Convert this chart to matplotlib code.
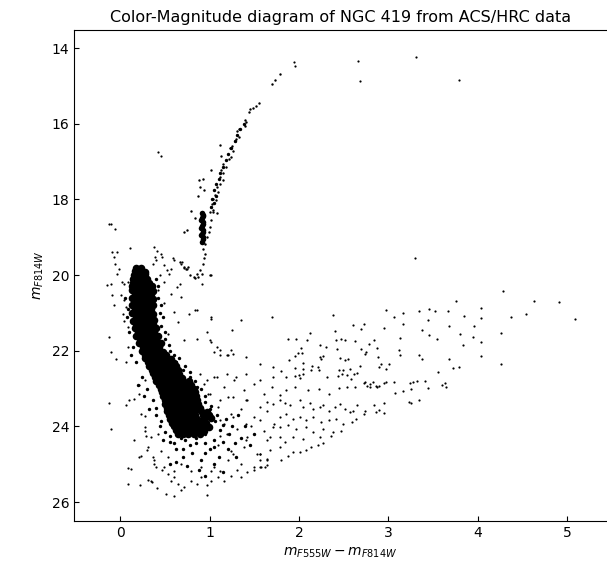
import numpy as np
import matplotlib
matplotlib.use("Agg")
import matplotlib.pyplot as plt

# star positions: (colour F555W-F814W, magnitude F814W)
field_stars = [
    (1.94, 14.37), (1.95, 14.46), (2.66, 14.34), (2.68, 14.87), (3.31, 14.24), (3.79, 14.85),
    (0.42, 16.75), (0.46, 16.85),
    (3.30, 19.56), (4.28, 20.43), (3.76, 20.68), (4.63, 20.69), (4.91, 20.71), (5.09, 21.17),
    (4.38, 21.11), (4.54, 21.02), (4.04, 20.88), (4.04, 21.13), (3.85, 21.08), (3.67, 20.96),
    (3.52, 20.94), (3.46, 20.90), (3.34, 20.96), (3.16, 21.00), (3.17, 21.29), (3.44, 21.19),
    (3.38, 21.44), (3.68, 21.35), (3.96, 21.35), (3.80, 21.55), (3.46, 21.59), (3.55, 21.70),
    (3.95, 21.63), (4.26, 21.52), (4.04, 21.76), (3.84, 21.85), (3.13, 21.66), (3.13, 22.10),
    (3.34, 22.10), (3.38, 22.23), (3.68, 22.22), (4.04, 22.13), (4.26, 22.35), (3.79, 22.43),
    (3.73, 22.46), (3.56, 22.55), (3.24, 22.84), (3.28, 22.82), (3.32, 22.81), (3.41, 22.81),
    (3.25, 23.02), (3.45, 22.98), (3.60, 22.91), (3.63, 22.86), (3.65, 22.97), (3.16, 23.06),
    (3.23, 23.36), (3.25, 23.38), (3.34, 23.29),
    (2.38, 21.06), (2.12, 21.53), (1.88, 21.69), (1.97, 21.69), (2.09, 21.72), (2.40, 21.47),
    (2.60, 21.32), (2.69, 21.43), (2.73, 21.30), (2.97, 20.92), (3.06, 21.11), (2.95, 21.39),
    (2.42, 21.72), (2.47, 21.70), (2.52, 21.72), (2.63, 21.74), (2.84, 21.72), (2.78, 21.83),
    (2.87, 21.93), (2.69, 21.95), (2.74, 22.08), (2.75, 22.04), (3.12, 21.99), (2.43, 21.94),
    (2.30, 21.91), (2.23, 21.84), (2.02, 21.92), (1.95, 22.13), (1.99, 22.07), (2.03, 22.05),
    (2.24, 22.16), (2.27, 22.15), (2.25, 22.21), (2.46, 22.18), (2.52, 22.25), (2.55, 22.23),
    (2.89, 22.16), (1.89, 22.25), (2.05, 22.32), (2.15, 22.41), (2.21, 22.42), (2.22, 22.52),
    (2.49, 22.51), (2.45, 22.52), (2.57, 22.49), (2.68, 22.39), (2.90, 22.43), (2.92, 22.34),
    (2.97, 22.47), (3.01, 22.36), (1.80, 22.54), (1.95, 22.45), (2.04, 22.47), (2.13, 22.51),
    (1.86, 22.70), (1.95, 22.68), (2.00, 22.65), (2.05, 22.62), (2.01, 22.73), (2.31, 22.70),
    (2.44, 22.66), (2.48, 22.61), (2.54, 22.65), (2.62, 22.62), (2.65, 22.59), (2.58, 22.75),
    (2.74, 22.82), (2.76, 22.92), (2.79, 22.88), (2.83, 22.83), (2.86, 22.94), (2.90, 22.93),
    (2.95, 22.84), (2.97, 22.83), (3.06, 22.82), (3.08, 23.12),
    (1.79, 23.16), (1.86, 23.05), (1.95, 22.96), (2.10, 23.05), (2.22, 23.02), (2.34, 23.14),
    (2.45, 22.99), (2.54, 22.97), (2.63, 22.96), (2.73, 22.85), (2.80, 22.97), (2.87, 22.97),
    (1.79, 23.31), (1.84, 23.38), (1.90, 23.44), (2.01, 23.31), (2.05, 23.49), (2.12, 23.38),
    (2.16, 23.53), (2.23, 23.49), (2.27, 23.44), (2.34, 23.58), (2.40, 23.49), (2.46, 23.40),
    (2.51, 23.53), (2.57, 23.62), (2.61, 23.58), (2.65, 23.44), (2.74, 23.58), (2.84, 23.44),
    (2.86, 23.62), (2.90, 23.56), (2.95, 23.37), (2.95, 23.64),
    (1.79, 23.75), (1.86, 23.66), (1.93, 23.80), (2.01, 23.74), (2.08, 23.84), (2.16, 23.75),
    (2.25, 23.89), (2.34, 23.84), (2.42, 23.80), (2.49, 23.93), (2.59, 23.89), (2.64, 23.80),
    (2.73, 23.66), (2.47, 24.11), (1.79, 24.02), (1.88, 23.97), (1.97, 24.06), (2.08, 24.02),
    (2.16, 24.15), (2.27, 24.06), (2.38, 24.15), (1.79, 24.28), (1.93, 24.28), (2.05, 24.33),
    (2.23, 24.28),
    (1.56, 25.08), (1.62, 25.08), (1.56, 24.90), (1.64, 24.85), (1.80, 24.88), (1.88, 24.77),
    (1.93, 24.68), (2.01, 24.68), (2.08, 24.62), (2.14, 24.55), (2.21, 24.50), (2.27, 24.44),
    (2.36, 24.26), (1.56, 24.72), (1.67, 24.63), (1.79, 24.55), (1.84, 24.42),
    (-0.13, 23.39), (-0.11, 24.06), (0.15, 24.37), (0.08, 25.10), (0.12, 25.13), (0.09, 25.53),
    (0.22, 25.54), (0.31, 25.42), (0.35, 25.46), (0.41, 25.62), (0.51, 25.78), (0.60, 25.85),
    (0.68, 25.69), (0.97, 25.81), (0.06, 23.43), (0.10, 23.29), (0.15, 23.28), (0.21, 23.14),
    (0.21, 22.90), (0.28, 22.78), (0.23, 23.67), (0.28, 23.73), (0.27, 24.02), (0.29, 24.24),
    (0.23, 24.77), (0.21, 24.81), (0.30, 24.63), (0.36, 24.81), (0.38, 24.99), (0.34, 25.43),
    (0.40, 25.06), (0.47, 25.16), (0.53, 25.25), (0.57, 25.43), (0.60, 25.34), (0.64, 25.52),
    (0.71, 25.60), (0.79, 25.43), (0.86, 25.52), (0.90, 25.34), (0.97, 25.56), (1.01, 25.43),
    (1.09, 25.34), (1.16, 25.43), (1.24, 25.30), (1.31, 25.16), (1.35, 25.34), (1.42, 25.21),
    (1.50, 25.16), (1.57, 25.08), (1.64, 25.03),
    (0.94, 22.87), (1.05, 22.70), (1.16, 22.96), (1.27, 22.78), (1.38, 23.05), (1.50, 22.87),
    (1.61, 23.14), (1.70, 22.96), (0.98, 23.14), (1.20, 23.23), (1.42, 23.31), (1.64, 23.36),
    (1.09, 23.49), (1.24, 23.67), (1.35, 23.53), (1.50, 23.75), (1.64, 23.58), (1.16, 23.93),
    (1.31, 24.06), (1.46, 23.98), (1.61, 24.11), (1.72, 23.93), (1.12, 24.24), (1.42, 24.28),
    (1.68, 24.28), (1.09, 24.50), (1.24, 24.64), (1.38, 24.55), (1.53, 24.72), (1.20, 24.90),
    (1.35, 24.99), (1.50, 25.08), (1.64, 24.90), (1.05, 25.08), (0.27, 24.11), (0.34, 24.28),
    (0.42, 24.20), (0.31, 24.55), (0.45, 24.64), (0.38, 24.90), (0.53, 24.81), (0.49, 25.08),
    (0.60, 25.17), (0.68, 24.99), (0.79, 25.17), (0.90, 25.08), (1.01, 25.17), (1.12, 25.17),
    (1.00, 21.72), (1.08, 21.90), (1.19, 22.12), (1.26, 22.08), (1.41, 22.17), (1.56, 22.34),
    (1.71, 22.43), (0.89, 22.61), (0.97, 22.78), (1.08, 22.70), (1.19, 22.61), (1.30, 22.70),
    (1.41, 22.61), (1.56, 22.78), (1.71, 22.70), (1.00, 23.14), (1.12, 23.31), (1.26, 23.22),
    (1.41, 23.31), (1.56, 23.49), (1.71, 23.40), (1.12, 23.84), (1.26, 23.75), (1.41, 23.93),
    (1.56, 23.84), (1.71, 24.02), (1.19, 24.19), (1.41, 24.37), (1.64, 24.37), (1.26, 24.72),
    (1.56, 24.72),
    (-0.13, 18.66), (-0.10, 18.66), (-0.06, 18.77), (0.11, 19.27), (-0.09, 19.40), (-0.04, 19.40),
    (-0.07, 19.52), (-0.06, 19.70), (-0.02, 19.83), (-0.04, 19.96), (-0.15, 20.25), (-0.11, 20.23),
    (0.02, 20.18), (-0.13, 21.64), (-0.11, 22.02), (0.38, 19.26), (0.41, 19.36), (0.45, 19.43),
    (0.47, 19.52), (0.39, 19.52), (0.59, 19.56), (0.69, 19.65), (0.71, 19.80), (0.54, 19.96),
    (0.52, 19.87), (0.67, 20.23), (0.63, 20.31), (1.02, 20.00), (0.91, 20.24), (0.86, 20.91),
    (1.02, 21.12), (1.35, 21.18), (1.70, 21.12), (1.25, 21.44), (1.12, 21.99),
    (0.04, 20.23), (0.08, 20.18), (0.01, 20.53), (-0.09, 20.53), (-0.07, 20.80), (0.04, 20.67),
    (0.06, 20.84), (0.03, 21.02), (0.04, 21.20), (0.08, 21.37), (-0.05, 22.21), (0.06, 22.30),
    (0.08, 21.90), (0.40, 19.61), (0.49, 19.74), (0.60, 19.61), (0.68, 19.70), (0.75, 19.83),
    (0.57, 19.83), (0.36, 19.70), (0.57, 20.49), (0.68, 20.58), (0.84, 20.93), (1.01, 21.15),
    (0.97, 21.50), (1.01, 21.77), (0.77, 21.02), (0.60, 20.98), (0.64, 21.24), (0.53, 21.55),
    (0.71, 21.72), (0.86, 21.68), (1.05, 22.03), (1.12, 22.12), (1.20, 22.12), (1.24, 21.99),
    (0.49, 20.18), (0.44, 20.00), (0.42, 20.40), (0.49, 20.75),
]

giant_branch = [
    (1.79, 14.68), (1.73, 14.84), (1.70, 14.96), (1.55, 15.46), (1.52, 15.53), (1.48, 15.59),
    (1.45, 15.62), (1.44, 15.70), (1.39, 15.90), (1.41, 15.94), (1.39, 16.05), (1.33, 16.15),
    (1.31, 16.19), (1.33, 16.35), (1.30, 16.39), (1.28, 16.45), (1.25, 16.59), (1.12, 16.57),
    (1.23, 16.65), (1.26, 16.71), (1.24, 16.87), (1.22, 16.92), (1.13, 16.84), (1.15, 17.05),
    (1.18, 17.14), (1.13, 17.23), (1.15, 17.31), (1.12, 17.40), (1.15, 17.49), (1.11, 17.58),
    (1.08, 17.67), (1.09, 17.80), (1.06, 17.89), (1.04, 17.98), (1.07, 18.02), (1.03, 18.11),
    (1.02, 18.20), (1.04, 18.29), (1.00, 18.33), (1.02, 17.23), (0.88, 17.49), (0.89, 17.67),
    (0.94, 17.74), (0.93, 17.47), (0.87, 17.92), (0.79, 18.30), (0.84, 18.50), (0.71, 18.86),
    (0.75, 18.81), (1.04, 18.33), (1.08, 18.37), (1.02, 18.55), (1.00, 18.73), (0.99, 18.86),
    (0.97, 18.99), (0.95, 19.17), (0.93, 19.30), (0.95, 19.43), (0.94, 19.56), (0.92, 19.70),
    (0.89, 19.87), (0.91, 19.96), (0.87, 20.05), (1.00, 20.00), (0.67, 19.65), (0.71, 19.79),
    (0.74, 19.85), (0.76, 19.79), (0.78, 20.00), (0.82, 20.05), (0.84, 20.07), (0.86, 19.96),
]

# denser parts of the giant branch and the red clump
rgb_dense = [
    (1.07, 17.60), (1.05, 17.75), (1.07, 17.90), (1.03, 18.00), (1.05, 18.10), (1.02, 18.20),
    (1.10, 17.45), (1.12, 17.30), (1.15, 17.15), (1.18, 16.95), (1.21, 16.80), (1.24, 16.65),
    (1.28, 16.45), (1.31, 16.30), (1.34, 16.15), (1.38, 16.00),
]
red_clump = [
    (0.91, 18.35), (0.92, 18.40), (0.93, 18.45), (0.91, 18.50), (0.90, 18.55), (0.92, 18.60),
    (0.93, 18.65), (0.91, 18.70), (0.90, 18.75), (0.92, 18.80), (0.92, 18.85), (0.91, 18.90),
    (0.90, 18.95), (0.92, 19.00), (0.92, 19.05), (0.91, 19.12),
]

# semi-dense stars around the main sequence
ms_halo = [
    (0.42, 20.60), (0.44, 21.00), (0.46, 21.35), (0.50, 21.70), (0.55, 22.00), (0.62, 22.30),
    (0.70, 22.50), (0.78, 22.70), (0.86, 22.95), (0.95, 23.20), (1.02, 23.45), (1.08, 23.70),
    (1.15, 23.95), (1.22, 24.20), (1.28, 24.45), (0.10, 21.50), (0.14, 21.90), (0.18, 22.30),
    (0.24, 22.70), (0.30, 23.00), (0.36, 23.30), (0.40, 23.70), (0.44, 24.00), (0.48, 24.35),
    (0.55, 24.40), (0.62, 24.60), (0.70, 24.80), (0.80, 24.70), (0.90, 24.90), (1.00, 24.60),
    (1.10, 24.80), (1.20, 24.60), (0.62, 24.95), (0.75, 25.05), (0.88, 25.15), (1.05, 25.00),
    (0.85, 24.30), (0.95, 24.20), (1.05, 24.35), (1.12, 24.10), (1.18, 23.80), (1.25, 24.00),
    (1.35, 24.30), (1.40, 24.00), (1.32, 23.70), (0.85, 23.50), (0.92, 23.75), (1.00, 24.00),
    (0.72, 24.35), (0.78, 24.50),
    (0.40, 20.10), (0.42, 20.30), (0.05, 20.60), (0.07, 21.10), (0.08, 20.90), (0.45, 20.80),
    (0.48, 21.10), (0.50, 21.50), (0.54, 21.85), (0.60, 22.10), (0.66, 22.20), (0.72, 22.40),
    (0.78, 22.55), (0.84, 22.80), (0.90, 23.00), (0.95, 23.35), (1.00, 23.55), (1.06, 23.85),
    (0.40, 23.50), (0.45, 23.85), (0.50, 24.15), (0.55, 24.25), (0.60, 24.45), (0.68, 24.30),
    (0.85, 24.45), (0.95, 24.45), (1.05, 24.55), (1.15, 24.40), (0.95, 24.70), (0.70, 24.60),
    (1.30, 24.80), (1.45, 24.50), (1.50, 24.20), (1.15, 25.20), (0.95, 25.30), (0.55, 25.00),
    (0.20, 22.90), (0.26, 23.20), (0.32, 23.55), (0.12, 22.10),
]

# the saturated main-sequence ridge
ms_core = [
    (0.17, 19.80), (0.23, 19.82), (0.16, 19.90), (0.22, 19.90), (0.27, 19.91),
    (0.15, 20.00), (0.21, 20.01), (0.27, 19.98),
    (0.14, 20.10), (0.20, 20.10), (0.26, 20.11), (0.30, 20.10),
    (0.14, 20.20), (0.20, 20.19), (0.26, 20.21), (0.32, 20.22),
    (0.13, 20.30), (0.19, 20.30), (0.25, 20.31), (0.31, 20.30), (0.35, 20.30),
    (0.13, 20.40), (0.19, 20.41), (0.25, 20.39), (0.31, 20.40), (0.36, 20.42),
    (0.16, 20.50), (0.22, 20.50), (0.28, 20.51), (0.34, 20.50),
    (0.13, 20.60), (0.19, 20.61), (0.25, 20.59), (0.31, 20.60), (0.37, 20.62),
    (0.16, 20.70), (0.22, 20.70), (0.28, 20.71), (0.34, 20.70),
    (0.13, 20.80), (0.19, 20.79), (0.25, 20.81), (0.31, 20.80), (0.37, 20.78),
    (0.16, 20.90), (0.22, 20.90), (0.28, 20.91), (0.34, 20.90),
    (0.13, 21.00), (0.19, 21.01), (0.25, 20.99), (0.31, 21.00), (0.37, 21.02),
    (0.17, 21.10), (0.23, 21.10), (0.29, 21.11), (0.35, 21.10),
    (0.14, 21.20), (0.20, 21.19), (0.26, 21.21), (0.32, 21.20), (0.38, 21.19),
    (0.18, 21.30), (0.24, 21.30), (0.30, 21.31), (0.36, 21.30),
    (0.16, 21.40), (0.22, 21.41), (0.28, 21.39), (0.34, 21.40), (0.40, 21.41),
    (0.20, 21.50), (0.26, 21.50), (0.32, 21.51), (0.38, 21.50),
    (0.18, 21.60), (0.24, 21.61), (0.30, 21.59), (0.36, 21.60), (0.42, 21.62),
    (0.22, 21.70), (0.28, 21.70), (0.34, 21.71), (0.40, 21.70),
    (0.21, 21.80), (0.27, 21.79), (0.33, 21.81), (0.39, 21.80), (0.45, 21.79),
    (0.25, 21.90), (0.31, 21.90), (0.37, 21.91), (0.43, 21.90),
    (0.24, 22.00), (0.30, 22.01), (0.36, 21.99), (0.42, 22.00), (0.48, 22.02),
    (0.28, 22.10), (0.34, 22.10), (0.40, 22.11), (0.46, 22.10), (0.51, 22.10),
    (0.28, 22.20), (0.34, 22.19), (0.40, 22.21), (0.46, 22.20), (0.52, 22.19), (0.57, 22.22),
    (0.31, 22.30), (0.37, 22.30), (0.43, 22.31), (0.49, 22.30), (0.55, 22.30), (0.60, 22.31),
    (0.32, 22.40), (0.38, 22.41), (0.44, 22.39), (0.50, 22.40), (0.56, 22.41), (0.62, 22.39),
    (0.35, 22.50), (0.41, 22.50), (0.47, 22.51), (0.53, 22.50), (0.59, 22.50), (0.64, 22.51),
    (0.36, 22.60), (0.42, 22.59), (0.48, 22.61), (0.54, 22.60), (0.60, 22.59), (0.66, 22.61),
    (0.39, 22.70), (0.45, 22.70), (0.51, 22.71), (0.57, 22.70), (0.63, 22.70), (0.69, 22.71),
    (0.40, 22.80), (0.46, 22.81), (0.52, 22.79), (0.58, 22.80), (0.64, 22.81), (0.70, 22.79), (0.77, 22.80),
    (0.43, 22.90), (0.49, 22.90), (0.55, 22.91), (0.61, 22.90), (0.67, 22.90), (0.73, 22.91), (0.79, 22.90),
    (0.45, 23.00), (0.51, 22.99), (0.57, 23.01), (0.63, 23.00), (0.69, 22.99), (0.75, 23.01), (0.82, 23.00),
    (0.47, 23.10), (0.53, 23.10), (0.59, 23.11), (0.65, 23.10), (0.71, 23.10), (0.77, 23.11), (0.83, 23.10),
    (0.48, 23.20), (0.54, 23.21), (0.60, 23.19), (0.66, 23.20), (0.72, 23.21), (0.78, 23.19), (0.85, 23.20),
    (0.50, 23.30), (0.56, 23.30), (0.62, 23.31), (0.68, 23.30), (0.74, 23.30), (0.80, 23.31), (0.86, 23.30),
    (0.50, 23.40), (0.56, 23.39), (0.62, 23.41), (0.68, 23.40), (0.74, 23.39), (0.80, 23.41), (0.87, 23.40),
    (0.52, 23.50), (0.58, 23.50), (0.64, 23.51), (0.70, 23.50), (0.76, 23.50), (0.82, 23.51), (0.89, 23.50),
    (0.52, 23.60), (0.58, 23.61), (0.64, 23.59), (0.70, 23.60), (0.76, 23.61), (0.82, 23.59), (0.90, 23.60), (0.97, 23.62),
    (0.54, 23.70), (0.60, 23.70), (0.66, 23.71), (0.72, 23.70), (0.78, 23.70), (0.84, 23.71), (0.92, 23.70), (0.99, 23.70),
    (0.55, 23.80), (0.61, 23.79), (0.67, 23.81), (0.73, 23.80), (0.79, 23.79), (0.86, 23.81), (0.94, 23.80), (1.01, 23.78),
    (0.58, 23.90), (0.64, 23.90), (0.70, 23.91), (0.76, 23.90), (0.82, 23.90), (0.89, 23.91), (0.96, 23.90),
    (0.60, 24.00), (0.66, 24.01), (0.72, 23.99), (0.78, 24.00), (0.84, 24.01), (0.92, 23.99), (0.99, 24.02),
    (0.62, 24.10), (0.68, 24.10), (0.74, 24.11), (0.80, 24.10), (0.87, 24.10), (0.94, 24.11),
    (0.64, 24.20), (0.70, 24.19), (0.76, 24.21), (0.82, 24.20), (0.89, 24.19),
]

title = "Color-Magnitude diagram of NGC 419 from ACS/HRC data"
xlabel = r"$m_{F555W} - m_{F814W}$"
ylabel = r"$m_{F814W}$"
xticks = [0, 1, 2, 3, 4, 5]
yticks = [14, 16, 18, 20, 22, 24, 26]

fig = plt.figure(figsize=(6.07, 5.72), dpi=100)
ax = fig.add_axes([74 / 607, 51 / 572, 1 - 74 / 607, (521 - 30) / 572])

def draw(points, size):
    xy = np.array(points)
    ax.scatter(xy[:, 0], xy[:, 1], s=size, c="black", marker="o", linewidths=0)

draw(ms_core, 30)
draw(ms_halo, 6)
draw(red_clump, 16)
draw(rgb_dense, 6)
draw(giant_branch, 3)
draw(field_stars, 2.5)

ax.set_xlim(-0.52, 5.45)
ax.set_ylim(26.5, 13.52)
ax.set_xticks(xticks)
ax.set_yticks(yticks)
ax.tick_params(direction="in", top=False, right=False, labelsize=10)
ax.spines["right"].set_visible(False)
ax.set_xlabel(xlabel, fontsize=10)
ax.set_ylabel(ylabel, fontsize=10)
ax.set_title(title, fontsize=11.5)

fig.savefig("out.png", dpi=100)
